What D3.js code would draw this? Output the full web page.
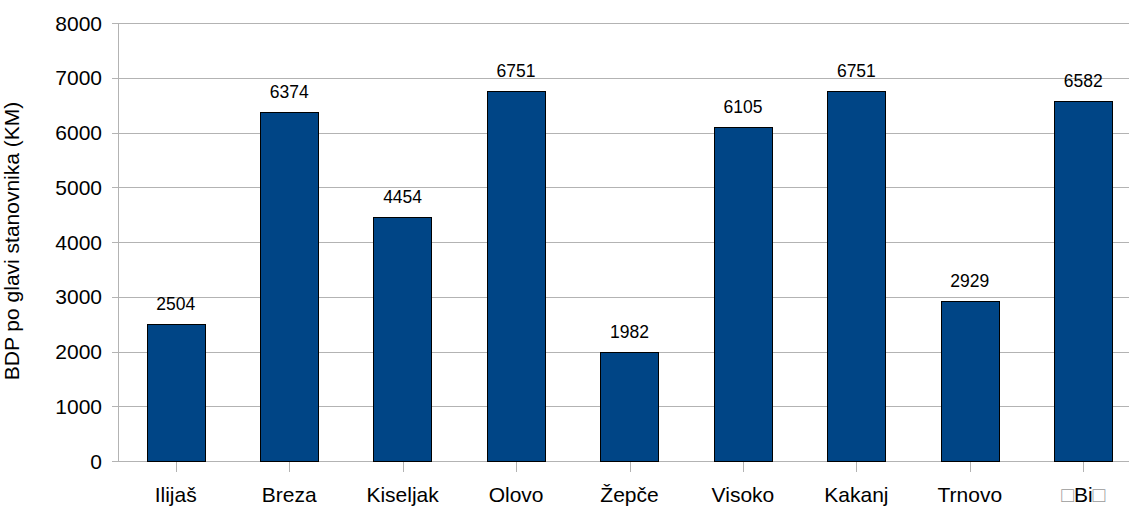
<!DOCTYPE html>
<html><head><meta charset="utf-8">
<script src="https://cdn.jsdelivr.net/npm/d3@7"></script>
<style>body{margin:0;background:#fff}svg{display:block;font-family:"Liberation Sans",Arial,sans-serif}</style>
</head><body>
<svg id="c" width="1129" height="506"></svg>
<script>
const categories = ["Ilijaš","Breza","Kiseljak","Olovo","Žepče","Visoko","Kakanj","Trnovo","\u25A1Bi\u25A1"];
const values = [2504,6374,4454,6751,1982,6105,6751,2929,6582];
const yTicks = [0,1000,2000,3000,4000,5000,6000,7000,8000];
const yTitle = "BDP po glavi stanovnika (KM)";

(function(){
const svg = d3.select("#c");
const pL = 119, pT = 23, pB = 461, pR = 1140;
const x = d3.scaleBand().domain(categories).range([pL, pR]);
const y = d3.scaleLinear().domain([0, 8000]).range([pB, pT]);
const bw = x.bandwidth() * 0.515;

svg.append("g").selectAll("line").data(yTicks).join("line")
  .attr("x1", pL - 7).attr("x2", 1129)
  .attr("y1", d => Math.round(y(d)) + 0.5).attr("y2", d => Math.round(y(d)) + 0.5)
  .attr("stroke", "#b3b3b3").attr("stroke-width", 1);
svg.append("line").attr("x1", pL - 0.5).attr("x2", pL - 0.5).attr("y1", pT).attr("y2", pB + 1)
  .attr("stroke", "#b3b3b3");
svg.append("g").selectAll("line").data(categories).join("line")
  .attr("x1", d => Math.round(x(d) + x.bandwidth()/2) + 0.5)
  .attr("x2", d => Math.round(x(d) + x.bandwidth()/2) + 0.5)
  .attr("y1", pB).attr("y2", pB + 11)
  .attr("stroke", "#b3b3b3");

svg.append("g").selectAll("text").data(yTicks).join("text")
  .attr("x", pL - 17).attr("y", d => y(d) + 7.5)
  .attr("text-anchor", "end").attr("font-size", 21).attr("fill", "#000")
  .text(d => d);

svg.append("g").selectAll("rect").data(values).join("rect")
  .attr("x", (d, i) => Math.round(x(categories[i]) + x.bandwidth()/2 - bw/2) + 0.5)
  .attr("y", d => Math.round(y(d)) + 0.5)
  .attr("width", Math.round(bw))
  .attr("height", d => Math.round(y(0)) - Math.round(y(d)))
  .attr("fill", "#004586").attr("stroke", "#000").attr("stroke-width", 1);

svg.append("g").selectAll("text").data(values).join("text")
  .attr("x", (d, i) => x(categories[i]) + x.bandwidth()/2)
  .attr("y", d => y(d) - 14)
  .attr("text-anchor", "middle").attr("font-size", 17.5).attr("fill", "#000")
  .text(d => d);

svg.append("g").selectAll("text").data(categories).join("text")
  .attr("x", d => x(d) + x.bandwidth()/2)
  .attr("y", 502)
  .attr("text-anchor", "middle").attr("font-size", 21).attr("fill", "#000")
  .each(function(d){
    const t = d3.select(this);
    d.split(/(\u25A1)/).filter(s => s.length).forEach(s => {
      t.append("tspan").attr("fill", s === "\u25A1" ? "#9a9a9a" : "#000").text(s);
    });
  });

svg.append("text").attr("transform", "translate(19,241) rotate(-90)")
  .attr("text-anchor", "middle").attr("font-size", 21).attr("fill", "#000")
  .text(yTitle);
})();
</script>
</body></html>
